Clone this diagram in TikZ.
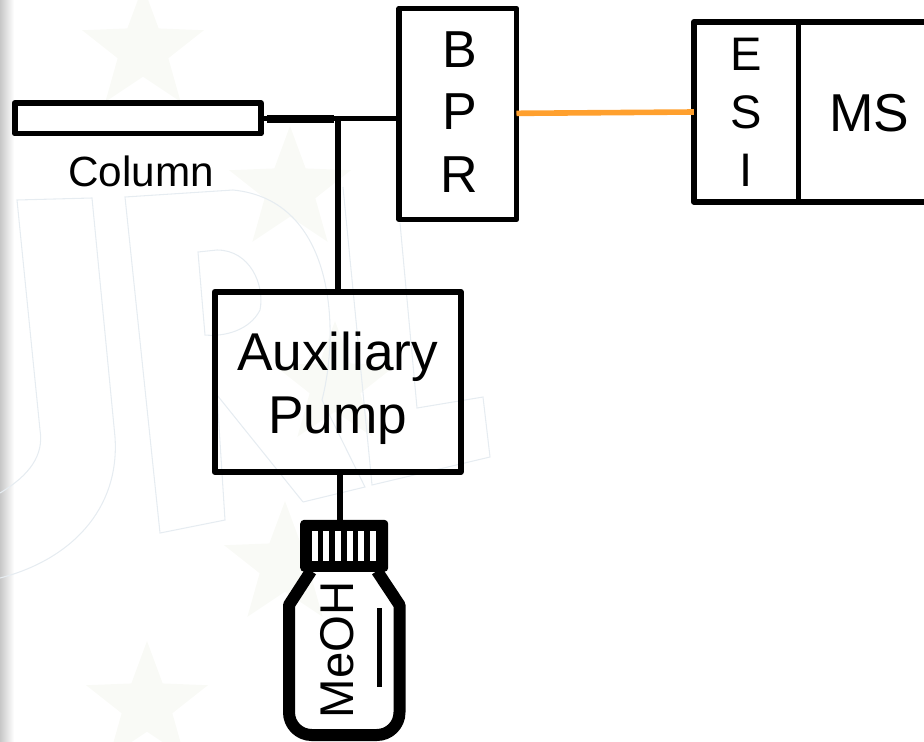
\documentclass[tikz,border=0pt]{standalone}
\usepackage{fontspec}
\setmainfont{Liberation Sans}
\usepackage{tikz}
\usetikzlibrary{shapes.geometric, arrows}
\definecolor{starcol}{HTML}{F9FAF6}
\definecolor{markcol}{HTML}{E6ECF1}
\definecolor{esiline}{HTML}{FFA02E}
\tikzstyle{unit} = [
	rectangle,
	line width=4.2pt,
	line join=round,
	outer sep=0pt,
	inner sep=0pt,
	draw=black
]
\tikzstyle{caption} = [
	inner sep=0pt,
	text=black,
	align=center,
	font=\fontsize{39}{48}\selectfont
]
\tikzstyle{pipe} = [line width=4.2pt, draw=black]
\tikzstyle{ghoststar} = [
	star,
	star points=5,
	star point ratio=2.4,
	minimum size=96pt,
	inner sep=0pt,
	fill=starcol
]
\tikzstyle{ghostline} = [line width=0.8pt, draw=markcol]

\begin{document}
\begin{tikzpicture}[x=0.75pt, y=-0.75pt, node distance=40pt]
	\useasboundingbox (0,0) rectangle (924,742);
	\shade [left color=black!22, right color=white] (0,0) rectangle (14,742);
	\foreach \cx/\cy in {143/50, 290/190, 335/385, 285/565, 147/705}
		\node (star\cx) [ghoststar] at (\cx,\cy) {};
	\draw [ghostline] (0,493) .. controls (30,475) and (44,455) .. (40,430) -- (17,200) -- (92,198) -- (115,437) .. controls (120,510) and (70,560) .. (0,578);
	\draw [ghostline] (303,502) -- (365,487) -- (322,400) .. controls (340,330) and (335,200) .. (233,190) -- (125,197) -- (160,533) -- (225,520) -- (217,395) -- (303,502);
	\draw [ghostline] (198,252) -- (217,250) .. controls (250,250) and (265,285) .. (260,310) .. controls (250,330) and (225,337) .. (205,335) -- cycle;
	\draw [ghostline] (343,187) -- (372,485) -- (490,457) -- (483,397) -- (417,408) -- (400,223);

	\node (col) [unit, minimum width=184.5pt, minimum height=23pt] at (137.75,118.35) {};
	\node (collabel) [caption, below of=col, font=\fontsize{31.7}{38}\selectfont, xshift=2.5pt] {Column};
	\node (bpr) [unit, minimum width=88.1pt, minimum height=158.2pt] at (457.75,114) {};
	\node (bprtext) [caption, xshift=1.5pt, yshift=1.5pt, font=\fontsize{39}{47}\selectfont] at (bpr) {B\\P\\R};
	\node (aux) [unit, minimum width=184.5pt, minimum height=135.2pt] at (337.7,381.9) {};
	\node (auxtext) [caption, yshift=-5pt, font=\fontsize{39.9}{47.5}\selectfont] at (aux) {Auxiliary\\Pump};
	\node (esi) [unit, minimum width=78.5pt, minimum height=135pt] at (746.15,112) {};
	\node (esitext) [caption, yshift=-0.3pt, font=\fontsize{35.3}{43.5}\selectfont] at (esi) {E\\S\\I};
	\node (ms) [caption, font=\fontsize{40}{46}\selectfont] at (869,113) {MS};
	\coordinate (msend) at (924,112);
	\draw [pipe, line cap=round] (esi.north east) -- (esi.north east -| msend);
	\draw [pipe, line cap=round] (esi.south east) -- (esi.south east -| msend);

	\coordinate (tee) at (aux.north |- col.east);
	\draw [pipe] (col.east) -- (col.east -| bpr.west);
	\draw [pipe, line width=6pt] ([xshift=4.5pt, yshift=-0.5pt]col.east) -- ([yshift=-0.5pt, xshift=-3pt]tee);
	\draw [pipe] (aux.north) -- (tee);
	\draw [line width=4.2pt, draw=esiline] ([yshift=0.5pt]bpr.east) -- (esi.west);

	\node (cap) [rectangle, rounded corners=3pt, fill=black, minimum width=66pt, minimum height=39pt, inner sep=0pt] at (344.2,545.8) {};
	\foreach \i in {0,...,5}
		\fill [white] (311.7+11.67*\i,530.7) rectangle (317.7+11.67*\i,561);
	\draw [pipe] ([xshift=1.5pt]aux.south) -- ([xshift=1.5pt]aux.south |- cap.north);
	\draw [line width=9pt, draw=black, line join=round] (311,571) -- (289,605) [rounded corners=17pt] -- (289,735) -- (399.5,735) [sharp corners] -- (399.5,605) -- (377,571);
	\node (meoh) [caption, rotate=90, font=\fontsize{35.5}{40}\selectfont] at (337,650) {MeOH};
	\draw [line width=4.2pt, draw=black] (379.5,608) -- (379.5,687);
\end{tikzpicture}
\end{document}
